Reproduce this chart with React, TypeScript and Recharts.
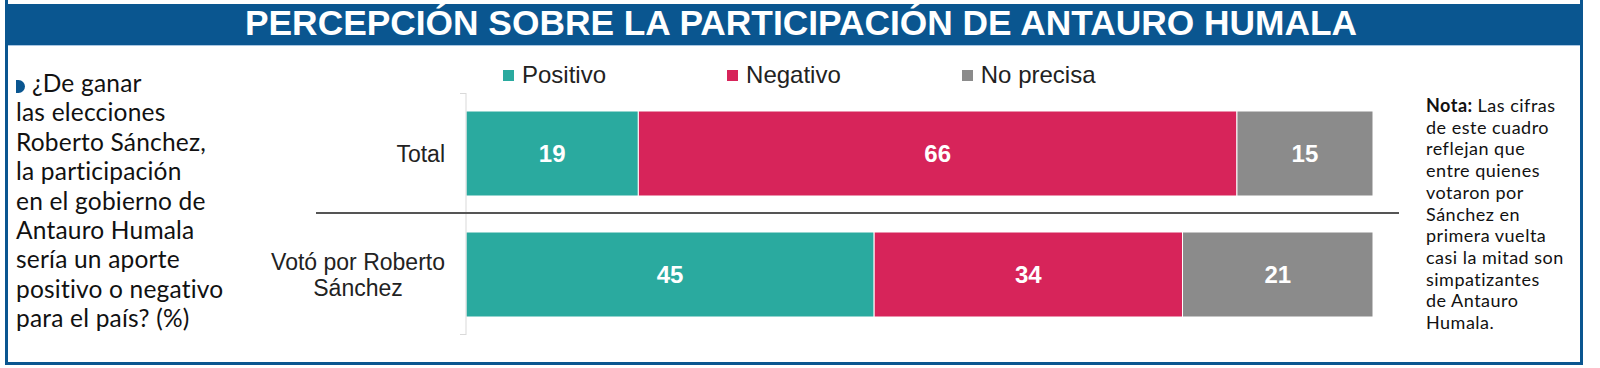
import { Bar, BarChart, LabelList, Legend, XAxis, YAxis } from 'recharts'

// Perception of Antauro Humala's participation (%)
const groups = ['Total', 'Votó por Roberto\nSánchez']
const positivo = [19, 45]
const negativo = [66, 34]
const noPrecisa = [15, 21]
const seriesNames = ['Positivo', 'Negativo', 'No precisa']
const seriesColors = ['#2aaa9f', '#d7245a', '#8b8b8b']

const questionLines = [
  '¿De ganar',
  'las elecciones',
  'Roberto Sánchez,',
  'la participación',
  'en el gobierno de',
  'Antauro Humala',
  'sería un aporte',
  'positivo o negativo',
  'para el país? (%)',
]
const noteLines = [
  'Las cifras',
  'de este cuadro',
  'reflejan que',
  'entre quienes',
  'votaron por',
  'Sánchez en',
  'primera vuelta',
  'casi la mitad son',
  'simpatizantes',
  'de Antauro',
  'Humala.',
]

const data = groups.map((group, i) => ({
  group,
  positivo: positivo[i],
  negativo: negativo[i],
  noPrecisa: noPrecisa[i],
}))

const BLUE = '#0a5690'
const ARIAL = "'Liberation Sans', Arial, sans-serif"
const TICK_FONT = `23px ${ARIAL}`

let ctx: CanvasRenderingContext2D | null = null
function textWidth(text: string) {
  if (!ctx) ctx = document.createElement('canvas').getContext('2d')
  if (!ctx) return text.length * 11
  ctx.font = TICK_FONT
  return ctx.measureText(text).width
}

function GroupTick({ x, y, payload }: any) {
  const lines = String(payload.value).split('\n')
  const right = x - 13
  if (lines.length === 1) {
    return (
      <text x={right} y={y} dy="0.36em" textAnchor="end" fontFamily={ARIAL} fontSize={23} fill="#222">
        {lines[0]}
      </text>
    )
  }
  const widest = Math.max(...lines.map(textWidth))
  const cx = right - widest / 2
  const step = 26
  const start = y - ((lines.length - 1) * step) / 2
  return (
    <text textAnchor="middle" fontFamily={ARIAL} fontSize={23} fill="#222">
      {lines.map((line, i) => (
        <tspan key={line} x={cx} y={start + i * step} dy="0.36em">
          {line}
        </tspan>
      ))}
    </text>
  )
}

function LegendRow() {
  return (
    <div style={{ display: 'flex', gap: 121, paddingLeft: 503, alignItems: 'center' }}>
      {seriesNames.map((name, i) => (
        <div key={name} style={{ display: 'flex', alignItems: 'center', gap: 8 }}>
          <span style={{ width: 11, height: 11, background: seriesColors[i], display: 'inline-block' }} />
          <span style={{ fontFamily: ARIAL, fontSize: 24, color: '#222', lineHeight: '28px' }}>{name}</span>
        </div>
      ))}
    </div>
  )
}

export default function App() {
  const keys = ['positivo', 'negativo', 'noPrecisa']
  return (
    <div style={{ position: 'absolute', left: 0, top: 0, width: 1600, height: 368, background: '#fff', overflow: 'hidden' }}>
      {/* frame */}
      <div
        style={{
          position: 'absolute',
          left: 5,
          top: 0,
          width: 1578,
          height: 365,
          boxSizing: 'border-box',
          borderLeft: `3px solid ${BLUE}`,
          borderRight: `3px solid ${BLUE}`,
          borderBottom: `3px solid ${BLUE}`,
        }}
      />
      <div style={{ position: 'absolute', left: 5, top: 4, width: 1578, height: 41, background: BLUE }} />
      <svg width={1578} height={46} style={{ position: 'absolute', left: 5, top: 0, display: 'block' }}>
        <text
          x={796}
          y={35}
          textAnchor="middle"
          textLength={1112}
          lengthAdjust="spacingAndGlyphs"
          fontFamily={ARIAL}
          fontWeight="bold"
          fontSize={35}
          fill="#fff"
        >
          PERCEPCIÓN SOBRE LA PARTICIPACIÓN DE ANTAURO HUMALA
        </text>
      </svg>
      <div style={{ position: 'absolute', left: 8, top: 45, width: 1572, height: 1, background: '#a9c6e2' }} />

      {/* question */}
      <div
        style={{
          position: 'absolute',
          left: 16,
          top: 80,
          width: 9,
          height: 13,
          background: BLUE,
          borderRadius: '0 7px 7px 0',
        }}
      />
      <div
        style={{
          position: 'absolute',
          left: 16,
          top: 68,
          fontFamily: "Lato, 'Open Sans', sans-serif",
          fontSize: 24.5,
          lineHeight: '29.4px',
          color: '#111',
          whiteSpace: 'nowrap',
          letterSpacing: 0.2,
        }}
      >
        {questionLines.map((line, i) => (
          <div key={line} style={{ paddingLeft: i === 0 ? 16 : 0 }}>
            {line}
          </div>
        ))}
      </div>

      {/* note */}
      <div
        style={{
          position: 'absolute',
          left: 1426,
          top: 95,
          fontFamily: "Lato, 'Open Sans', sans-serif",
          fontSize: 18,
          lineHeight: '21.7px',
          color: '#111',
          whiteSpace: 'nowrap',
          letterSpacing: 0.5,
        }}
      >
        {noteLines.map((line, i) => (
          <div key={line}>
            {i === 0 && <b>Nota: </b>}
            {line}
          </div>
        ))}
      </div>

      <div style={{ position: 'absolute', left: 0, top: 0 }}>
        <BarChart
          width={1600}
          height={368}
          data={data}
          layout="vertical"
          barSize={85}
          margin={{ top: 93, right: 227, bottom: 33, left: 0 }}
        >
          <XAxis type="number" domain={[0, 100]} hide />
          <YAxis
            type="category"
            dataKey="group"
            width={466}
            axisLine={{ stroke: '#d9d9d9' }}
            tickLine={false}
            tick={<GroupTick />}
            interval={0}
          />
          <Legend
            layout="horizontal"
            verticalAlign="middle"
            align="center"
            wrapperStyle={{ top: 61, left: 0, width: 1600 }}
            content={() => <LegendRow />}
          />
          {keys.map((key, i) => (
            <Bar
              key={key}
              dataKey={key}
              name={seriesNames[i]}
              stackId="a"
              fill={seriesColors[i]}
              stroke="#ffffff"
              strokeWidth={1}
              isAnimationActive={false}
            >
              <LabelList
                dataKey={key}
                position="center"
                fill="#fff"
                fontFamily={ARIAL}
                fontWeight="bold"
                fontSize={24}
              />
            </Bar>
          ))}
        </BarChart>
      </div>

      {/* separator and axis end ticks */}
      <div style={{ position: 'absolute', left: 316, top: 212, width: 1083, height: 2, background: '#555' }} />
      <div style={{ position: 'absolute', left: 460, top: 93, width: 6, height: 1, background: '#d9d9d9' }} />
      <div style={{ position: 'absolute', left: 460, top: 334, width: 6, height: 1, background: '#d9d9d9' }} />
    </div>
  )
}
